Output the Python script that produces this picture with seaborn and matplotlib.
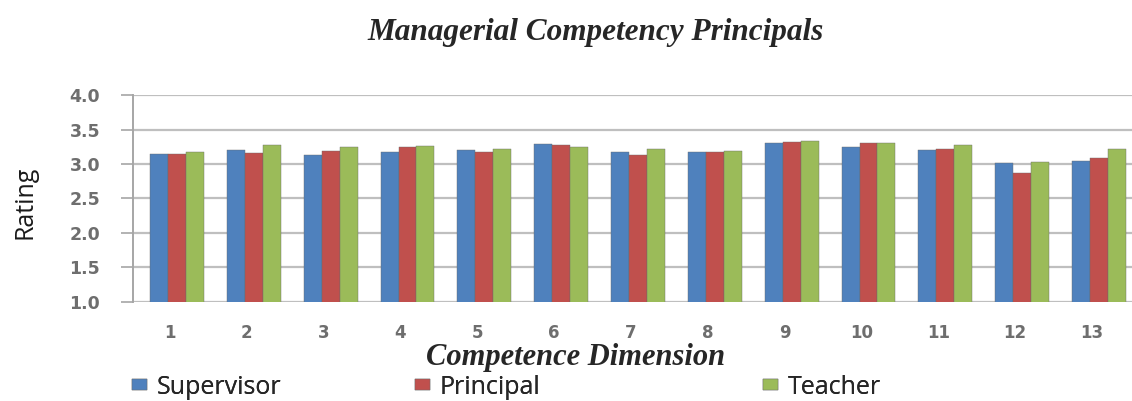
import matplotlib
matplotlib.use("Agg")
import matplotlib.pyplot as plt
from matplotlib.transforms import ScaledTranslation
import pandas as pd
import seaborn as sns

# Mean ratings per competence dimension, by respondent group
dimensions = ["1", "2", "3", "4", "5", "6", "7", "8", "9", "10", "11", "12", "13"]
supervisor = [3.14, 3.21, 3.13, 3.18, 3.21, 3.29, 3.17, 3.17, 3.30, 3.25, 3.21, 3.02, 3.04]
principal = [3.15, 3.16, 3.19, 3.24, 3.18, 3.28, 3.13, 3.18, 3.32, 3.31, 3.22, 2.87, 3.08]
teacher = [3.17, 3.28, 3.24, 3.26, 3.22, 3.24, 3.22, 3.19, 3.33, 3.31, 3.28, 3.03, 3.22]
groups = ["Supervisor", "Principal", "Teacher"]
y_ticks = [1.0, 1.5, 2.0, 2.5, 3.0, 3.5, 4.0]

colors = {"Supervisor": "#4F81BD", "Principal": "#C0504D", "Teacher": "#9BBB59"}

df = pd.DataFrame({
    "Dimension": dimensions * 3,
    "Rating": supervisor + principal + teacher,
    "Group": [groups[0]] * 13 + [groups[1]] * 13 + [groups[2]] * 13,
})

sns.set_theme(style="white")
plt.rcParams["font.family"] = ["DejaVu Sans"]

fig = plt.figure(figsize=(11.32, 4.01), dpi=100)
ax = fig.add_axes([0.1175, 0.247, 0.8825, 0.516])

sns.barplot(data=df, x="Dimension", y="Rating", hue="Group", order=dimensions,
            hue_order=groups, palette=colors, saturation=1, width=0.7,
            edgecolor="#6a6a6a", linewidth=0.3, ax=ax, legend=True, errorbar=None)

ax.set_ylim(1.0, 4.0)
ax.set_xlim(-0.573, 12.43)
ax.set_yticks(y_ticks)
ax.set_yticklabels([f"{v:.1f}" for v in y_ticks], fontsize=12.5, fontweight="bold",
                   color="#6e6e6e")
ax.tick_params(axis="y", length=8.6, width=1.2, color="#A6A6A6", pad=15, left=True)
ax.tick_params(axis="x", length=0, pad=16)
for lbl in ax.get_xticklabels():
    lbl.set_fontsize(12)
    lbl.set_fontweight("bold")
    lbl.set_color("#6e6e6e")
    lbl.set_transform(lbl.get_transform() + ScaledTranslation(-0.07, 0, fig.dpi_scale_trans))

ax.set_axisbelow(True)
ax.yaxis.grid(True, color="#BFBFBF", linewidth=1.6)
for side in ["top", "right", "bottom"]:
    ax.spines[side].set_visible(False)
ax.spines["left"].set_color("#A6A6A6")
ax.spines["left"].set_linewidth(1.4)

ax.set_ylabel("Rating", fontsize=18, family=["Open Sans", "DejaVu Sans"], color="#1a1a1a")
ax.yaxis.set_label_coords(-0.096, 0.48)
ax.set_xlabel("Competence Dimension", fontsize=22, family=["Liberation Serif"],
              fontweight="bold", fontstyle="italic")
ax.xaxis.label.set_va("center")
ax.xaxis.set_label_coords(0.4425, -0.27)

fig.text(0.526, 0.92, "Managerial Competency Principals", ha="center", va="center",
         fontsize=22.5, family=["Liberation Serif"], fontweight="bold", fontstyle="italic")

# One legend entry per group, spread across the bottom
handles, labels = ax.get_legend_handles_labels()
ax.get_legend().remove()
legend_x = [0.1166, 0.3666, 0.674]
for h, lab, lx in zip(handles, labels, legend_x):
    leg = fig.legend([h], [lab], loc="center left", bbox_to_anchor=(lx, 0.034),
                     frameon=False, handlelength=0.6, handleheight=0.3,
                     handletextpad=0.4, borderaxespad=0, borderpad=0,
                     prop={"family": ["Open Sans", "DejaVu Sans"], "size": 18})
    fig.add_artist(leg)

fig.savefig("out.png", dpi=100)
